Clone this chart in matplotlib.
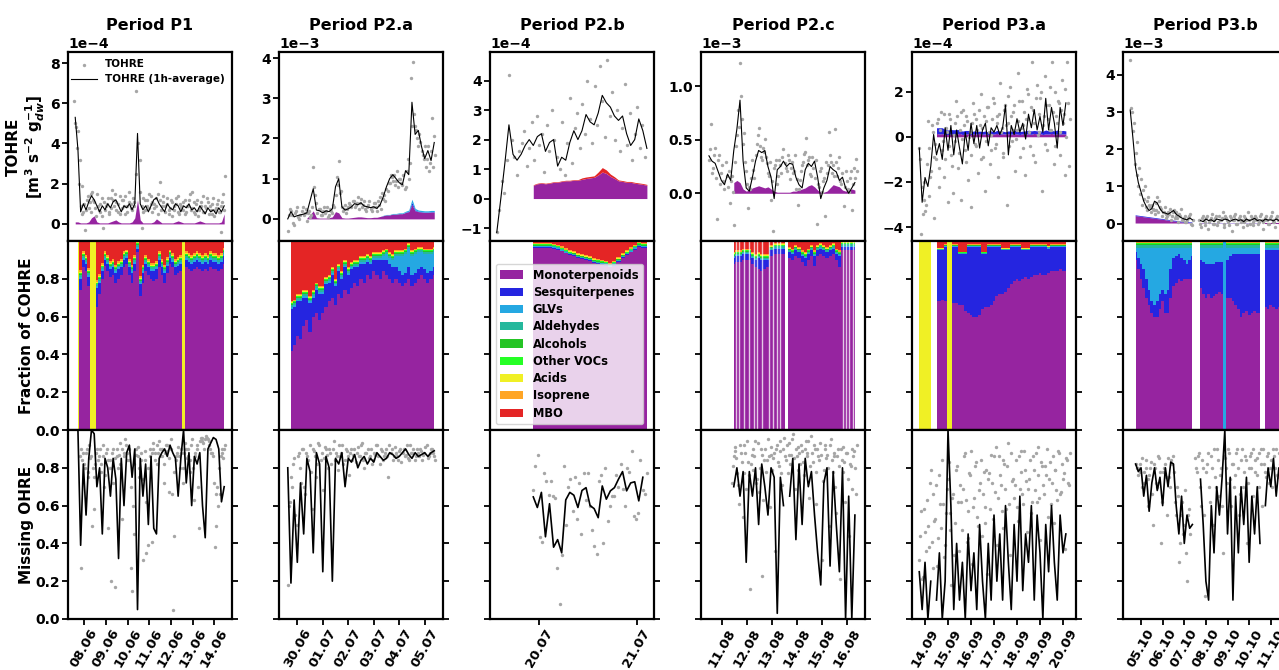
import numpy as np
import pandas as pd
import matplotlib
matplotlib.use("Agg")
import matplotlib.pyplot as plt
import matplotlib.dates as mdates
from matplotlib.patches import Patch

n = np.nan

categories = ["Monoterpenoids", "Sesquiterpenes", "GLVs", "Aldehydes", "Alcohols",
              "Other VOCs", "Acids", "Isoprene", "MBO"]
cat_colors = ["#9624a0", "#2525e0", "#25a8e2", "#25b89c", "#25c425",
              "#25ff25", "#f0f025", "#ffa525", "#e42525"]

# ---------------- Period P1 (3 h grid from 07.06 14:00) ----------------
p1_tohre_avg = [5.3, 3.7, 0.6, 1.0, 0.7, 1.1, 1.4, 1.2, 0.9, 0.6,
                0.9, 0.7, 1.0, 0.8, 1.1, 1.2, 0.9, 0.6, 0.9, 0.8,
                1.0, 0.7, 1.0, 4.5, 1.0, 0.7, 0.9, 0.6, 0.9, 1.2,
                1.3, 1.0, 0.8, 0.6, 1.0, 0.8, 0.7, 1.0, 0.9, 0.6,
                0.9, 0.8, 1.0, 0.7, 0.8, 0.6, 0.9, 0.7, 0.5, 0.8,
                0.6, 0.7, 0.5, 0.8, 0.6, 0.9]
p1_tohre_pts = [6.1, 4.8, 4.6, 3.2, 1.9, 0.6, -0.3, 1.2, 0.8, 1.5,
                1.6, 1.1, 0.4, 0.9, 0.6, 1.3, -0.2, 0.7, 1.0, 0.5,
                1.3, 1.7, 0.9, 1.1, 0.6, 1.4, 0.8, 1.2, 0.5, 0.9,
                1.6, 1.0, 0.7, 1.1, 6.6, 8.1, 3.2, -0.2, 0.6, 1.2,
                0.9, 1.5, 1.0, 1.1, 0.8, 1.3, 0.5, 2.1, 0.9, 1.4,
                0.6, 1.0, 0.7, 1.2, 0.4, 0.9, 1.3, 0.6, 1.0, 0.8,
                1.1, 0.5, 0.9, 1.2, 0.7, 1.6, 0.6, 1.0, 0.4, 0.8,
                1.1, 0.6, 0.9, 1.3, 0.5, 0.7, 1.0, 0.4, 0.8, 1.2,
                0.6, -0.4, 1.5, 2.4]
p1_tohre_pts2 = [5.0, 3.8, 2.0, 0.9, 0.5, 1.0, 0.7, 1.4, 1.1, 0.6,
                 1.2, 0.8, 1.5, 0.7, 1.0, 0.4, 1.1, 0.9, 1.3, 0.6,
                 0.8, 1.2, 1.5, 0.7, 1.0, 0.5, 1.2, 0.9, 1.4, 0.6,
                 1.1, 0.8, 1.3, 0.9, 2.5, 4.0, 1.6, 0.9, 1.3, 0.7,
                 1.2, 0.8, 1.4, 0.6, 1.0, 0.9, 1.5, 1.2, 0.7, 1.1,
                 0.9, 1.3, 0.5, 0.8, 1.1, 0.7, 1.0, 1.4, 0.5, 0.9,
                 0.7, 1.2, 0.6, 0.9, 1.5, 0.8, 1.1, 0.5, 1.2, 0.7,
                 0.9, 1.4, 0.6, 0.8, 1.1, 0.9, 0.5, 1.3, 0.7, 1.0,
                 0.6, 0.9, 1.1, 0.7]
p1_cohre_mono = [0.1, 0.1, 0.05, 0.05, 0.05, 0.1, 0.3, 0.4, 0.1, 0.05,
                 0.05, 0.05, 0.05, 0.1, 0.15, 0.2, 0.1, 0.05, 0.05, 0.05,
                 0.05, 0.1, 0.3, 1.2, 0.2, 0.05, 0.05, 0.05, 0.05, 0.1,
                 0.25, 0.15, 0.05, 0.05, 0.05, 0.05, 0.05, 0.1, 0.15, 0.1,
                 0.05, 0.05, 0.05, 0.05, 0.05, 0.1, 0.15, 0.1, 0.05, 0.05,
                 0.05, 0.05, 0.05, 0.05, 0.1, 0.5]
p1_frac_mono = [n, 0, .74, .86, .84, .76, 0, 0, .65, .72,
                .8, .87, .84, .81, .82, .78, .8, .82, .86, .88,
                .82, .78, .84, .94, .71, .78, .84, .82, .8, .79,
                .8, .86, .82, .78, .83, .88, .86, .82, .83, .84,
                0, .86, .85, .84, .85, .86, .85, .84, .85, .84,
                .86, .85, .85, .84, .85, .88]
p1_frac_sesq = [n, 0, .06, .04, .04, .05, 0, 0, .1, .06,
                .04, .03, .04, .04, .04, .05, .05, .04, .04, .03,
                .04, .05, .04, .02, .06, .05, .04, .04, .04, .05,
                .05, .04, .04, .05, .04, .03, .03, .04, .04, .04,
                0, .04, .04, .04, .04, .04, .04, .04, .04, .04,
                .04, .04, .04, .04, .04, .04]
p1_frac_glv = [n, 0, .01, .01, .01, .01, 0, 0, .01, .01,
               .01, .01, .01, .01, .01, .01, .01, .01, .01, .01,
               .01, .01, .01, .01, .01, .01, .01, .01, .01, .01,
               .01, .01, .01, .01, .01, .01, .01, .01, .01, .01,
               0, .01, .01, .01, .01, .01, .01, .01, .01, .01,
               .01, .01, .01, .01, .01, .01]
p1_frac_ald = [n, 0, .01, .01, .01, .01, 0, 0, .01, .01,
               .01, .01, .01, .01, .01, .01, .01, .01, .01, .01,
               .01, .01, .01, .01, .01, .01, .01, .01, .01, .01,
               .01, .01, .01, .01, .01, .01, .01, .01, .01, .01,
               0, .01, .01, .01, .01, .01, .01, .01, .01, .01,
               .01, .01, .01, .01, .01, .01]
p1_frac_alc = [n, 0, .005, .005, .005, .005, 0, 0, .005, .005,
               .005, .005, .005, .005, .005, .005, .005, .005, .005, .005,
               .005, .005, .005, .005, .005, .005, .005, .005, .005, .005,
               .005, .005, .005, .005, .005, .005, .005, .005, .005, .005,
               0, .005, .005, .005, .005, .005, .005, .005, .005, .005,
               .005, .005, .005, .005, .005, .005]
p1_frac_oth = [n, 0, .005, .005, .005, .005, 0, 0, .005, .005,
               .005, .005, .005, .005, .005, .005, .005, .005, .005, .005,
               .005, .005, .005, .005, .005, .005, .005, .005, .005, .005,
               .005, .005, .005, .005, .005, .005, .005, .005, .005, .005,
               0, .005, .005, .005, .005, .005, .005, .005, .005, .005,
               .005, .005, .005, .005, .005, .005]
p1_frac_acid = [n, 1, .005, .005, .005, .005, 1, 1, .005, .005,
                .005, .005, .005, .005, .005, .005, .005, .005, .005, .005,
                .005, .005, .005, .005, .005, .005, .005, .005, .005, .005,
                .005, .005, .005, .005, .005, .005, .005, .005, .005, .005,
                1, .005, .005, .005, .005, .005, .005, .005, .005, .005,
                .005, .005, .005, .005, .005, .005]
p1_frac_iso = [n, 0, .01, .01, .01, .01, 0, 0, .01, .01,
               .01, .01, .01, .01, .01, .01, .01, .01, .01, .01,
               .01, .01, .01, .01, .01, .01, .01, .01, .01, .01,
               .01, .01, .01, .01, .01, .01, .01, .01, .01, .01,
               0, .01, .01, .01, .01, .01, .01, .01, .01, .01,
               .01, .01, .01, .01, .01, .01]
p1_frac_mbo = [n, 0, .16, .06, .08, .15, 0, 0, .21, .18,
               .12, .06, .08, .11, .1, .13, .11, .1, .06, .05,
               .1, .13, .08, 0, .19, .13, .08, .1, .12, .12,
               .11, .06, .1, .13, .09, .05, .07, .1, .09, .08,
               0, .06, .07, .08, .07, .06, .07, .08, .07, .08,
               .06, .07, .07, .08, .07, .04]
p1_miss_avg = [n, 1.0, 0.39, 0.82, 0.55, 0.85, 1.0, 0.98, 0.7, 0.8,
               0.45, 0.85, 0.8, 0.65, 0.85, 0.74, 0.32, 0.85, 0.6, 0.88,
               0.92, 0.75, 0.9, 0.05, 0.85, 0.65, 0.82, 0.5, 0.86, 0.48,
               0.45, 0.85, 0.88, 0.9, 0.86, 0.92, 0.88, 0.85, 0.65, 0.85,
               1.0, 0.72, 0.88, 0.6, 0.86, 0.82, 0.88, 0.6, 0.43, 0.9,
               0.93, 0.96, 0.95, 0.9, 0.62, 0.7]
p1_miss_pts = [0.86, 0.27, 0.88, 0.8, 0.9, 0.75, 0.85, 0.49, 0.58, 0.82,
               0.9, 0.86, 0.78, 0.92, 0.7, 0.88, 0.48, 0.84, 0.2, 0.9,
               0.17, 0.86, 0.8, 0.93, 0.53, 0.88, 0.95, 0.84, 0.9, 0.27,
               0.15, 0.45, 0.87, 0.91, 0.75, 0.84, 0.31, 0.89, 0.35, 0.39,
               0.9, 0.41, 0.93, 0.88, 0.82, 0.94, 0.9, 0.86, 0.72, 0.92,
               0.89, 0.67, 0.95, 0.05, 0.44, 0.86, 0.91, 0.8, 0.88, 0.72,
               0.93, 0.85, 0.9, 0.78, 0.95, 0.63, 0.88, 0.92, 0.48, 0.96,
               0.94, 0.9, 0.97, 0.95, 0.92, 0.88, 0.86, 0.38, 0.49, 0.6,
               0.66, 0.9, 0.85, 0.92]
p1_miss_pts2 = [.9, .84, .82, .88, .78, .92, .86, .8, .75, .88,
                .84, .9, .82, .86, .76, .9, .84, .8, .88, .72,
                .85, .9, .87, .82, .9, .86, .92, .88, .84, .7,
                .6, .82, .9, .86, .8, .88, .74, .84, .62, .8,
                .86, .88, .9, .84, .92, .88, .86, .9, .82, .88,
                .92, .85, .9, .66, .78, .84, .88, .86, .9, .8,
                .88, .9, .86, .84, .92, .8, .86, .9, .7, .94,
                .96, .93, .95, .96, .94, .9, .88, .72, .66, .7,
                .8, .86, .88, .9]

# ---------------- Period P2.a (3 h grid from 29.06 15:00) ----------------
p2a_tohre_avg = [0.0, .18, .05, .08, .1, .12, .15, .45, .75, .22,
                 .2, .15, .2, .18, .25, .8, 1.0, .3, .22, .25,
                 .3, .38, .35, .4, .32, .3, .28, .3, .26, .35,
                 .55, .8, 1.0, 1.1, 1.0, .9, .85, 1.2, 1.1, 2.9,
                 2.1, 2.2, 1.8, 1.5, 1.7, 1.45, 1.9]
p2a_tohre_pts = [-.3, .25, .1, -.15, .2, .05, .1, .3, .15, -.05,
                 .2, .1, 1.3, .6, .15, .25, .1, .3, .2, .05,
                 .25, .15, .3, 1.05, 1.45, .7, .2, .35, .25, .4,
                 .3, .45, .35, .55, .4, .3, .45, .2, .35, .25,
                 .3, .4, .2, .35, .25, .5, .45, .7, .9, 1.05,
                 1.1, .95, .8, 1.0, .85, .75, 1.2, 1.0, 3.5, 3.9,
                 2.3, 2.0, 2.1, 1.7, 1.5, 1.3, 1.8, 1.4, 2.5, 2.05]
p2a_tohre_pts2 = [.1, .2, -.1, .15, .3, .0, .2, .1, .25, .15,
                  .05, .3, .8, .4, .25, .1, .2, .15, .3, .1,
                  .2, .35, .6, .85, .65, .3, .25, .15, .3, .35,
                  .45, .3, .4, .25, .5, .35, .25, .3, .45, .2,
                  .4, .3, .45, .55, .65, .6, .75, .9, 1.1, .95,
                  .85, 1.2, 1.0, .9, 1.1, .8, 1.5, 1.4, 2.3, 2.6,
                  2.2, 1.8, 1.9, 1.6, 1.8, 1.5, 1.2, 1.7, 1.3, 1.6]
p2a_cohre_mono = [n, n, n, n, n, n, .02, .1, .2, .03,
                  .02, .02, .02, .03, .05, .18, .15, .03, .02, .02,
                  .03, .04, .05, .05, .04, .03, .03, .04, .04, .06,
                  .08, .1, .1, .12, .12, .13, .13, .16, .18, .35,
                  .2, .18, .17, .16, .16, .17, .17]
p2a_cohre_sesq = [n, n, n, n, n, n, 0, 0, 0, 0,
                  0, 0, 0, 0, 0, 0, 0, 0, 0, 0,
                  0, 0, 0, 0, 0, 0, 0, 0, 0, 0,
                  0, 0, 0, 0, 0, 0, 0, .01, .01, .06,
                  .02, .01, .01, .01, .01, .01, .01]
p2a_cohre_glv = [n, n, n, n, n, n, 0, 0, 0, 0,
                 0, 0, 0, 0, 0, 0, 0, 0, 0, 0,
                 0, 0, 0, 0, 0, 0, 0, 0, 0, 0,
                 .01, .01, .01, .015, .015, .02, .02, .02, .03, .08,
                 .04, .03, .03, .03, .03, .03, .03]
p2a_frac_mono = [n, .42, .45, .5, .48, .55, .58, .52, .6, .62,
                 .58, .62, .65, .68, .7, .66, .72, .7, .74, .72,
                 .75, .78, .76, .8, .78, .82, .8, .84, .82, .8,
                 .84, .82, .8, .78, .8, .78, .76, .78, .8, .76,
                 .78, .8, .82, .8, .78, .8, .82]
p2a_frac_sesq = [n, .22, .2, .18, .2, .15, .12, .15, .1, .12,
                 .14, .1, .12, .1, .12, .1, .12, .1, .12, .1,
                 .1, .08, .1, .08, .1, .07, .08, .06, .08, .1,
                 .06, .08, .08, .08, .06, .06, .06, .05, .06, .06,
                 .05, .05, .04, .05, .05, .04, .04]
p2a_frac_glv = [n, .01, .01, .01, .01, .01, .01, .01, .01, .01,
                .01, .01, .01, .01, .01, .01, .01, .01, .01, .01,
                .01, .01, .01, .01, .01, .01, .01, .01, .01, .01,
                .02, .03, .03, .04, .06, .08, .1, .1, .1, .1,
                .1, .09, .08, .08, .1, .09, .08]
p2a_frac_ald = [n, .01, .01, .01, .01, .01, .01, .01, .01, .01,
                .01, .01, .01, .01, .01, .01, .01, .01, .01, .01,
                .01, .01, .01, .01, .01, .01, .01, .01, .01, .01,
                .01, .01, .01, .01, .01, .01, .01, .01, .01, .01,
                .01, .01, .01, .01, .01, .01, .01]
p2a_frac_alc = [n, .005, .005, .005, .005, .005, .005, .005, .005, .005,
                .005, .005, .005, .005, .005, .005, .005, .005, .005, .005,
                .005, .005, .005, .005, .005, .005, .005, .005, .005, .005,
                .005, .005, .005, .005, .005, .005, .005, .005, .005, .005,
                .005, .005, .005, .005, .005, .005, .005]
p2a_frac_oth = [n, .005, .005, .005, .005, .005, .005, .005, .005, .005,
                .005, .005, .005, .005, .005, .005, .005, .005, .005, .005,
                .005, .005, .005, .005, .005, .005, .005, .005, .005, .005,
                .005, .005, .005, .005, .005, .005, .005, .005, .005, .005,
                .005, .005, .005, .005, .005, .005, .005]
p2a_frac_acid = [n, .005, .005, .005, .005, .005, .005, .005, .005, .005,
                 .005, .005, .005, .005, .005, .005, .005, .005, .005, .005,
                 .005, .005, .005, .005, .005, .005, .005, .005, .005, .005,
                 .005, .005, .005, .005, .005, .005, .005, .005, .005, .005,
                 .005, .005, .005, .005, .005, .005, .005]
p2a_frac_iso = [n, .005, .005, .005, .005, .005, .005, .005, .005, .005,
                .005, .005, .005, .005, .005, .005, .005, .005, .005, .005,
                .005, .005, .005, .005, .005, .005, .005, .005, .005, .005,
                .005, .005, .005, .005, .005, .005, .005, .005, .005, .005,
                .005, .005, .005, .005, .005, .005, .005]
p2a_frac_mbo = [n, .32, .31, .28, .28, .26, .26, .29, .26, .22,
                .24, .24, .19, .18, .14, .2, .12, .16, .1, .14,
                .11, .1, .1, .08, .08, .07, .08, .06, .06, .06,
                .05, .04, .06, .07, .05, .05, .05, .04, .01, .05,
                .04, .03, .03, .04, .04, .04, .03]
p2a_miss_avg = [.8, .19, .63, .3, .72, .45, .85, .78, .35, .88,
                .82, .25, .86, .8, .2, .85, .82, .88, .7, .85,
                .83, .87, .8, .84, .86, .82, .85, .83, .88, .86,
                .84, .85, .88, .87, .85, .86, .88, .9, .87, .85,
                .88, .86, .87, .88, .86, .88, .89]
p2a_miss_pts = [.18, .62, .7, .85, .5, .88, .72, .9, .66, .86,
                .92, .58, .89, .75, .93, .84, .68, .91, .87, .9,
                .82, .94, .88, .79, .86, .92, .84, .89, .76, .9,
                .87, .83, .91, .86, .93, .8, .88, .85, .9, .84,
                .87, .92, .82, .89, .86, .9, .75, .88, .84, .91,
                .86, .89, .83, .9, .87, .85, .92, .88, .84, .9,
                .86, .89, .87, .91, .85, .88, .9, .86]
p2a_miss_pts2 = [.6, .75, .82, .55, .86, .8, .9, .7, .88, .84,
                 .78, .9, .86, .82, .92, .88, .85, .9, .8, .88,
                 .9, .84, .86, .92, .88, .82, .9, .86, .88, .84,
                 .9, .88, .86, .92, .84, .88, .9, .86, .82, .88,
                 .92, .86, .9, .84, .88, .86, .92, .9, .86, .88,
                 .84, .9, .88, .86, .92, .84, .88, .9, .86, .88,
                 .9, .84, .88, .92, .86, .9, .88, .84]

# ---------------- Period P2.b (1 h grid from 19.07 13:30) ----------------
p2b_tohre_avg = [-1.15, 0.0, 1.2, 2.5, 1.5, 1.3, 1.5, 1.8, 2.0, 1.8,
                 2.1, 2.2, 1.6, 1.9, 2.0, 1.1, 1.4, 1.3, 1.9, 2.3,
                 2.0, 2.3, 2.85, 2.6, 2.5, 2.9, 3.5, 3.25, 3.1, 2.8,
                 2.65, 2.8, 2.2, 1.8, 2.0, 2.7, 2.3, 1.7]
p2b_tohre_pts = [-1.15, -.4, .6, .2, 1.3, 4.2, 2.0, 1.4, 0.8, 1.6,
                 1.9, 2.3, 1.1, 1.7, 2.6, 1.3, 2.8, 1.8, 2.2, 0.9,
                 2.5, 1.6, 3.0, 2.0, 1.4, 1.0, 2.6, 0.8, 1.9, 3.4,
                 1.2, 2.4, 2.9, 1.7, 3.2, 2.2, 4.0, 2.7, 1.9, 3.8,
                 2.5, 4.5, 3.3, 2.1, 4.7, 2.8, 3.6, 2.0, 3.0, 1.6,
                 2.4, 3.9, 1.8, 2.9, 1.3, 2.2, 3.1, 1.7, 2.5, 1.4]
p2b_cohre_mono = [n, n, n, n, n, n, n, n, n, .45,
                  .5, .52, .5, .52, .55, .55, .58, .6, .6, .62,
                  .62, .65, .68, .7, .72, .8, .9, .85, .75, .68,
                  .6, .58, .55, .55, .52, .5, .48, .45]
p2b_cohre_mbo = [n, n, n, n, n, n, n, n, n, .02,
                 .02, .02, .02, .02, .02, .02, .02, .02, .02, .02,
                 .02, .05, .05, .05, .05, .1, .15, .12, .08, .06,
                 .03, .03, .03, .03, .03, .03, .03, .03]
p2b_frac_mono = [n, n, n, n, n, n, n, n, n, .965,
                 .965, .965, .965, .965, .96, .955, .945, .935, .925, .92,
                 .91, .905, .9, .895, .885, .88, .875, .87, .86, .87,
                 .89, .91, .925, .94, .955, .97, .965, .965]
p2b_frac_sesq = [n, n, n, n, n, n, n, n, n, .004,
                 .004, .004, .004, .004, .004, .004, .004, .004, .004, .004,
                 .004, .004, .004, .004, .004, .004, .004, .004, .004, .004,
                 .004, .004, .004, .004, .004, .004, .004, .004]
p2b_frac_glv = [n, n, n, n, n, n, n, n, n, .002,
                .002, .002, .002, .002, .002, .002, .002, .002, .002, .002,
                .002, .002, .002, .002, .002, .002, .002, .002, .002, .002,
                .002, .002, .002, .002, .002, .002, .002, .002]
p2b_frac_ald = [n, n, n, n, n, n, n, n, n, .005,
                .005, .005, .005, .005, .005, .005, .005, .005, .005, .005,
                .005, .005, .005, .005, .005, .005, .005, .005, .005, .005,
                .005, .005, .005, .005, .005, .005, .005, .005]
p2b_frac_alc = [n, n, n, n, n, n, n, n, n, .003,
                .003, .003, .003, .003, .003, .003, .003, .003, .003, .003,
                .003, .003, .003, .003, .003, .003, .003, .003, .003, .003,
                .003, .003, .003, .003, .003, .003, .003, .003]
p2b_frac_oth = [n, n, n, n, n, n, n, n, n, .003,
                .003, .003, .003, .003, .003, .003, .003, .003, .003, .003,
                .003, .003, .003, .003, .003, .003, .003, .003, .003, .003,
                .003, .003, .003, .003, .003, .003, .003, .003]
p2b_frac_acid = [n, n, n, n, n, n, n, n, n, .003,
                 .003, .003, .003, .003, .003, .003, .003, .003, .003, .003,
                 .003, .003, .003, .003, .003, .003, .003, .003, .003, .003,
                 .003, .003, .003, .003, .003, .003, .003, .003]
p2b_frac_iso = [n, n, n, n, n, n, n, n, n, .006,
                .006, .006, .006, .006, .006, .006, .006, .006, .006, .006,
                .006, .006, .006, .006, .006, .006, .006, .006, .006, .006,
                .006, .006, .006, .006, .006, .006, .006, .006]
p2b_frac_mbo = [n, n, n, n, n, n, n, n, n, .01,
                .01, .01, .01, .01, .015, .02, .03, .04, .05, .055,
                .065, .07, .075, .08, .09, .095, .1, .105, .115, .105,
                .085, .065, .05, .035, .02, .005, .01, .01]
p2b_miss_avg = [n, n, n, n, n, n, n, n, n, .646,
                .59, .67, .435, .61, .38, .42, .35, .63, .67, .655,
                .59, .68, .695, .6, .584, .536, .704, .634, .678, .695,
                .74, .78, .678, .72, .726, .625, .75, n]
p2b_miss_pts = [.68, .81, .87, .435, .41, .77, .73, .655, .73, .65,
                .64, .27, .08, .34, .81, .5, .7, .74, .57, .75,
                .53, .72, .45, .77, .63, .77, .6, .47, .386, .345,
                .73, .76, .4, .8, .52, .6, .65, .65, .76, .7,
                .82, .69, .6, .8, .78, .89, .545, .53, .56, .84,
                .68, .66, .77]

# ---------------- Period P2.c (3 h grid from 10.08 11:00) ----------------
p2c_tohre_avg = [.35, .3, .28, .2, .12, .08, .18, .12, .4, .6,
                 .87, .3, .05, .02, .15, .3, .4, .38, .4, .25,
                 .15, -.05, .22, .25, .3, .25, .28, .27, .15, .08,
                 .05, .22, .28, .25, .3, .15, -.05, .05, .12, .25,
                 .22, .2, .12, .15, .05, 0.0, .05, .1]
p2c_tohre_pts = [.31, .65, .24, .42, -.24, .36, .19, .11, .29, .06,
                 -.09, .16, -.3, .44, .78, 1.22, .69, .56, .21, -.14,
                 .04, .31, .14, .46, .61, .34, .42, .51, .28, .16,
                 -.06, -.35, .26, .09, .31, .19, .41, .24, .36, .13,
                 .29, .21, .04, -.11, .12, .26, .37, .52, .31, .18,
                 .34, .14, -.29, .06, .24, .11, -.21, .19, .57, .29,
                 .26, .6, .16, .34, .09, -.12, .21, .04, .14, -.16, .24, .32]
p2c_tohre_pts2 = [.41, .19, .36, .14, .31, .09, .26, .04, .16, .21,
                  .11, .01, .29, .54, .62, .91, .46, .29, .09, .06,
                  .14, .22, .36, .54, .44, .31, .39, .34, .19, .29,
                  .11, .24, .31, .16, .26, .34, .28, .21, .31, .24,
                  .19, .36, .13, .04, .21, .29, .39, .26, .34, .16,
                  .24, .31, .09, .21, .01, .14, .29, .26, .36, .19,
                  .16, .29, .24, .11, .19, .06, .11, .01, .21, .09, .14, .21]
p2c_cohre_mono = [n, n, n, n, n, n, n, n, .1, .12,
                  .1, .04, .02, .03, .05, .06, .07, .06, .05, .06,
                  .04, .02, .01, .01, .01, .01, .01, .02, .02, .03,
                  .04, .05, .07, .08, .06, .03, .01, .01, .02, .05,
                  .08, .07, .06, .03, .02, .03, .04, .03]
p2c_frac_mono = [n, n, n, n, n, n, n, n, .88, .89,
                 .89, .9, .9, .9, .88, .86, .85, .84, .85, .86,
                 .92, .93, .93, .93, .93, 0, .91, .9, .92, .91,
                 .89, .87, .9, .92, .87, .92, .93, .92, .91, .92,
                 .93, .9, .86, .95, .95, .95, .95, .95]
p2c_frac_sesq = [n, n, n, n, n, n, n, n, .03, .03,
                 .03, .03, .03, .03, .03, .04, .06, .06, .05, .04,
                 .03, .03, .03, .03, .03, 0, .03, .03, .03, .03,
                 .03, .04, .03, .03, .05, .03, .03, .03, .03, .03,
                 .03, .03, .06, .02, .02, .02, .02, .02]
p2c_frac_glv = [n, n, n, n, n, n, n, n, .004, .004,
                .004, .004, .004, .004, .004, .004, .004, .004, .004, .004,
                .004, .004, .004, .004, .004, 0, .004, .004, .004, .004,
                .004, .004, .004, .004, .004, .004, .004, .004, .004, .004,
                .004, .004, .004, .004, .004, .004, .004, .004]
p2c_frac_ald = [n, n, n, n, n, n, n, n, .008, .008,
                .008, .008, .008, .008, .008, .008, .008, .008, .008, .008,
                .008, .008, .008, .008, .008, 0, .008, .008, .008, .008,
                .008, .008, .008, .008, .008, .008, .008, .008, .008, .008,
                .008, .008, .008, .008, .008, .008, .008, .008]
p2c_frac_alc = [n, n, n, n, n, n, n, n, .004, .004,
                .004, .004, .004, .004, .004, .004, .004, .004, .004, .004,
                .004, .004, .004, .004, .004, 0, .004, .004, .004, .004,
                .004, .004, .004, .004, .004, .004, .004, .004, .004, .004,
                .004, .004, .004, .004, .004, .004, .004, .004]
p2c_frac_oth = [n, n, n, n, n, n, n, n, .004, .004,
                .004, .004, .004, .004, .004, .004, .004, .004, .004, .004,
                .004, .004, .004, .004, .004, 0, .004, .004, .004, .004,
                .004, .004, .004, .004, .004, .004, .004, .004, .004, .004,
                .004, .004, .004, .004, .004, .004, .004, .004]
p2c_frac_acid = [n, n, n, n, n, n, n, n, .004, .004,
                 .004, .004, .004, .004, .004, .004, .004, .004, .004, .004,
                 .004, .004, .004, .004, .004, 0, .004, .004, .004, .004,
                 .004, .004, .004, .004, .004, .004, .004, .004, .004, .004,
                 .004, .004, .004, .004, .004, .004, .004, .004]
p2c_frac_iso = [n, n, n, n, n, n, n, n, .006, .006,
                .006, .006, .006, .006, .006, .006, .006, .006, .006, .006,
                .006, .006, .006, .006, .006, 0, .006, .006, .006, .006,
                .006, .006, .006, .006, .006, .006, .006, .006, .006, .006,
                .006, .006, .006, .006, .006, .006, .006, .006]
p2c_frac_mbo = [n, n, n, n, n, n, n, n, .06, .05,
                .05, .04, .04, .04, .06, .07, .06, .07, .07, .07,
                .02, .01, .01, .01, .01, 0, .03, .04, .02, .03,
                .05, .06, .04, .02, .05, .02, .01, .02, .03, .02,
                .01, .04, .05, .005, .005, .005, .005, .005]
# short sampling gaps inside the COHRE record
p2c_gap_times = ["2021-08-11 12:45", "2021-08-11 15:55", "2021-08-11 20:40",
                 "2021-08-12 01:25", "2021-08-12 06:15", "2021-08-12 09:25",
                 "2021-08-12 14:15", "2021-08-12 20:35", "2021-08-13 01:20",
                 "2021-08-13 04:35", "2021-08-13 07:45", "2021-08-15 20:15",
                 "2021-08-15 23:30", "2021-08-16 02:40", "2021-08-16 05:50"]
p2c_miss_avg = [n, n, n, n, n, n, n, n, .7, .8,
                .65, .78, .3, .78, .65, .8, .5, .82, .7, .55,
                .8, .75, .03, .75, .6, n, .65, .85, .42, .82,
                .5, .85, .7, .78, .55, .35, .18, .72, .8, .28,
                .78, .5, .25, .8, 0.0, .65, 0.0, .55]
p2c_miss_pts = [.72, .86, .91, .77, .61, .88, .54, .92, .69, .83,
                .16, .87, .79, .94, .74, .67, .9, .23, .84, .78,
                .95, .59, .87, .85, .36, .92, .81, .89, .71, .96,
                .84, .77, .93, .87, .98, .69, .86, .91, .82, .89,
                .76, .94, .88, .64, .97, .83, .9, .61, .86, .93,
                .31, .79, .92, .87, .49, .95, .78, .86, .56, .9,
                .21, .84, .91, .62, .88, .44, .81, .69, .89, .66]
p2c_miss_pts2 = [.81, .89, .85, .71, .92, .83, .77, .88, .94, .76,
                 .82, .9, .86, .72, .93, .8, .87, .63, .9, .84,
                 .86, .91, .79, .88, .9, .83, .94, .77, .9, .86,
                 .92, .87, .82, .95, .85, .9, .79, .88, .92, .83,
                 .9, .86, .94, .81, .88, .92, .78, .9, .84, .87,
                 .73, .9, .85, .8, .92, .84, .88, .7, .86, .81,
                 .9, .78, .83, .88, .74, .82, .9, .86, .8, .92]

# ---------------- Period P3.a (3 h grid from 13.09 18:00) ----------------
p3a_tohre_avg = [-.5, -2.9, -1.8, -2.2, -1.3, .1, -.8, -.3, -1.0, .4,
                 -.6, .5, -.8, .3, -.5, -1.2, .2, -.6, .6, -.3,
                 .5, -.5, .3, .6, -.4, .4, .2, .5, .1, .4,
                 1.4, -.8, .5, .1, .8, .2, .6, -.1, 1.0, .4,
                 1.2, .3, .9, .2, 1.7, .3, 1.3, .6, -.5, 1.3,
                 .5, 1.5]
p3a_tohre_pts = [-0.5, -4.3, -3.4, -2.0, -3.0, .7, -2.6, -1.5, .2, -3.6,
                 -1.0, .8, -2.2, 1.1, -.2, -1.8, .4, -2.9, 1.0, -.8,
                 -2.5, .6, 1.6, -1.4, .3, -2.8, 1.2, -.6, .9, -1.9,
                 .2, -3.1, 1.5, -.3, .8, -1.6, .5, 1.9, -.9, -2.4,
                 .7, 1.3, -1.2, .1, 1.7, -.5, .9, -1.8, 2.4, .4,
                 -.7, 1.4, -3.0, .6, 2.2, -.2, 1.1, -1.5, .3, 2.8,
                 -.9, 1.6, .5, -1.7, 2.1, .8, -.4, 3.3, 1.2, -1.1,
                 2.3, .2, 1.7, -2.4, .9, 2.7, -.6, 1.4, .3, 3.3,
                 -1.2, 2.0, .6, 1.5, -.8, 2.5, 1.0, -1.7, 3.3, -1.3]
p3a_tohre_pts2 = [-1.0, -2.2, -2.8, -3.3, -1.2, -.5, -1.8, .5, -.9, -.3,
                  .6, -1.4, .3, -.6, 1.0, -1.0, .2, -.4, .8, -1.3,
                  .1, -.2, .9, -.7, 1.1, -.1, .5, -1.1, .7, .0,
                  -.8, .6, 1.0, -.4, .3, 1.2, -1.0, .4, .9, -.2,
                  1.3, .2, -.6, .8, 1.5, -.3, .6, 1.0, .2, -.9,
                  1.2, .5, 1.8, -.4, .9, .3, 1.4, -.1, .7, 1.6,
                  .4, -.5, 1.1, .8, 1.9, .2, 1.3, -.8, .6, 1.7,
                  .1, 1.0, 2.0, .5, -.3, 1.4, .8, 2.2, .3, 1.1,
                  -.4, .9, 1.6, .2, 1.2, .6, 2.1, .0, 1.5, .8]
p3a_cohre_mono = [n, n, n, n, n, n, .15, .12, .14, .1,
                  .1, .12, .13, .12, .15, .1, .12, .14, .1, .13,
                  .12, .15, .11, .13, .1, .14, .12, .15, .1, .13,
                  .12, .14, .11, .15, .12, .1, .14, .12, .13, .11,
                  .15, .12, .14, .1, .13, .12, .15, .11, .14, .12,
                  .13, .12]
p3a_cohre_sesq = [n, n, n, n, n, n, .25, .28, .26, .22,
                  .2, .2, .18, .2, .17, .15, .16, .14, .12, .13,
                  .12, .1, .12, .13, .11, .12, .1, .13, .15, .12,
                  .1, .12, .14, .15, .12, .13, .11, .14, .16, .15,
                  .13, .14, .12, .15, .17, .14, .13, .15, .16, .14,
                  .15, .14]
p3a_frac_mono = [0, 0, 0, 0, 0, n, .68, .68, .69, .68,
                 0, 0, .67, .67, .66, .66, .63, .62, .61, .6,
                 .6, .61, .64, .65, .65, .66, .68, .71, .72, .72,
                 .73, .75, .77, .79, .8, .79, .8, .81, .8, .81,
                 .82, .82, .83, .82, .82, .83, .84, .84, .84, .85,
                 .84, .84]
p3a_frac_sesq = [0, 0, 0, 0, 0, n, .27, .27, .26, .29,
                 0, 0, .3, .3, .27, .27, .3, .35, .36, .37,
                 .37, .36, .29, .28, .32, .31, .29, .26, .25, .23,
                 .22, .2, .2, .18, .17, .18, .15, .14, .15, .16,
                 .15, .15, .14, .15, .15, .13, .13, .13, .13, .12,
                 .13, .13]
p3a_frac_glv = [0, 0, 0, 0, 0, n, .002, .002, .002, .002,
                0, 0, .002, .002, .002, .002, .002, .002, .002, .002,
                .002, .002, .002, .002, .002, .002, .002, .002, .002, .002,
                .002, .002, .002, .002, .002, .002, .002, .002, .002, .002,
                .002, .002, .002, .002, .002, .002, .002, .002, .002, .002,
                .002, .002]
p3a_frac_ald = [0, 0, 0, 0, 0, n, .004, .004, .004, .004,
                0, 0, .004, .004, .004, .004, .004, .004, .004, .004,
                .004, .004, .004, .004, .004, .004, .004, .004, .004, .004,
                .004, .004, .004, .004, .004, .004, .004, .004, .004, .004,
                .004, .004, .004, .004, .004, .004, .004, .004, .004, .004,
                .004, .004]
p3a_frac_alc = [0, 0, 0, 0, 0, n, .002, .002, .002, .002,
                0, 0, .002, .002, .002, .002, .002, .002, .002, .002,
                .002, .002, .002, .002, .002, .002, .002, .002, .002, .002,
                .002, .002, .002, .002, .002, .002, .002, .002, .002, .002,
                .002, .002, .002, .002, .002, .002, .002, .002, .002, .002,
                .002, .002]
p3a_frac_oth = [0, 0, 0, 0, 0, n, .002, .002, .002, .002,
                0, 0, .002, .002, .002, .002, .002, .002, .002, .002,
                .002, .002, .002, .002, .002, .002, .002, .002, .002, .002,
                .002, .002, .002, .002, .002, .002, .002, .002, .002, .002,
                .002, .002, .002, .002, .002, .002, .002, .002, .002, .002,
                .002, .002]
p3a_frac_acid = [1, 1, 1, 1, 1, n, .001, .001, .001, .001,
                 1, 1, .001, .001, .001, .001, .001, .001, .001, .001,
                 .001, .001, .001, .001, .001, .001, .001, .001, .001, .001,
                 .001, .001, .001, .001, .001, .001, .001, .001, .001, .001,
                 .001, .001, .001, .001, .001, .001, .001, .001, .001, .001,
                 .001, .001]
p3a_frac_iso = [0, 0, 0, 0, 0, n, .001, .001, .001, .001,
                0, 0, .001, .001, .001, .001, .001, .001, .001, .001,
                .001, .001, .001, .001, .001, .001, .001, .001, .001, .001,
                .001, .001, .001, .001, .001, .001, .001, .001, .001, .001,
                .001, .001, .001, .001, .001, .001, .001, .001, .001, .001,
                .001, .001]
p3a_frac_mbo = [0, 0, 0, 0, 0, n, .045, .045, .045, .02,
                0, 0, .02, .02, .065, .065, .065, .02, .02, .02,
                .02, .02, .065, .065, .02, .02, .02, .02, .02, .045,
                .045, .045, .02, .02, .02, .02, .045, .045, .045, .02,
                .02, .02, .02, .02, .02, .03, .02, .02, .02, .02,
                .02, .02]
p3a_miss_avg = [.25, .05, .3, .0, .2, n, .1, .35, .0, .2,
                1.0, .6, .05, .4, .1, .3, .0, .45, .15, .35,
                .05, .5, .2, .0, .4, .1, .55, .2, .45, .1,
                .6, .3, .05, .5, .2, .65, .15, .45, .3, .6,
                .1, .55, .35, .0, .5, .25, .6, .3, .1, .55,
                .35, .45]
p3a_miss_pts = [.31, .57, .22, .46, .63, .38, .79, .27, .52, .71,
                .43, .61, .84, .33, .56, .74, .47, .18, .66, .51,
                .81, .36, .62, .69, .88, .41, .57, .76, .29, .64,
                .83, .49, .72, .44, .78, .59, .24, .77, .87, .53,
                .67, .39, .86, .71, .48, .82, .58, .93, .34, .73,
                .64, .84, .52, .69, .89, .61, .79, .46, .74, .56,
                .86, .68, .62, .91, .42, .81, .66, .76, .54, .83,
                .72, .51, .79, .63, .88, .67, .74, .37, .84, .71]
p3a_miss_pts2 = [.44, .21, .58, .36, .49, .72, .41, .66, .53, .28,
                 .76, .48, .61, .39, .69, .83, .56, .64, .34, .79,
                 .62, .71, .47, .86, .63, .43, .77, .89, .59, .81,
                 .54, .68, .84, .66, .51, .79, .74, .58, .72, .86,
                 .91, .64, .76, .57, .84, .69, .81, .61, .88, .74,
                 .71, .59, .86, .78, .66, .89, .73, .69, .84, .62,
                 .79, .88, .76, .64, .83, .71, .81, .9, .74, .61,
                 .86, .79, .68, .89, .66, .82, .77, .85, .72, .88]

# ---------------- Period P3.b (3 h grid from 04.10 12:00) ----------------
p3b_tohre_avg = [3.05, 2.3, 1.5, 1.1, .85, .6, .45, .35, .4, .6,
                 .55, .4, .3, .28, .25, .3, .35, .25, .2, .15,
                 .12, .1, .15, .1, n, n, .08, .05, .12, .08,
                 .1, .05, .12, .1, .08, .12, .1, .06, .1, .12,
                 .08, .1, .05, .12, .08, .1, .14, .08, .1, .06,
                 .12, .09, .1, .07, .12, .08, .1, .09]
p3b_tohre_pts = [4.4, 3.0, 2.7, 1.9, 2.2, 1.5, 1.2, .9, 1.0, .6,
                 .7, .45, .5, .35, .55, .7, .6, .4, .3, .45,
                 .25, .3, .4, .2, .35, .3, .15, .25, .4, .1,
                 .2, .05, .15, .25, -.05, n, n, n, .1, -.1,
                 .2, .05, .15, -.15, .1, .25, 0, .15, -.05, .2,
                 .1, .3, -.1, .15, .05, .2, -.2, .1, .25, 0,
                 .15, .05, -.1, .2, .1, .3, 0, .15, -.05, .2,
                 .1, .05, .25, -.15, .1, .2, 0, .15, .3, .05,
                 -.1, .2, .1, .25, 0, .15]
p3b_tohre_pts2 = [3.1, 2.5, 1.6, 1.3, 1.0, .8, .5, .65, .45, .35,
                  .5, .3, .4, .25, .35, .3, .45, .2, .3, .15,
                  .2, .25, .1, .3, .15, .2, .05, .2, .1, .15,
                  .05, .1, .2, .0, .1, n, n, n, .0, .15,
                  .1, -.05, .2, .05, .15, .0, .1, .2, .05, .1,
                  .15, .0, .2, .1, -.05, .15, .1, .2, .0, .1,
                  .2, .1, .05, .15, -.05, .1, .2, .05, .1, .15,
                  .0, .2, .1, .05, .15, .1, .0, .2, .1, .05,
                  .15, .1, .0, .1, .2, .05]
p3b_cohre_mono = [n, n, .2, .19, .18, .17, .16, .15, .14, .13,
                  .12, .11, .1, .09, .08, .07, .06, .05, .04, .03,
                  .02, .02, .01, .01, n, n, .01, .01, .005, .005,
                  .005, .005, .005, .005, .005, .005, .005, .005, .005, .005,
                  .005, .005, .005, .005, .005, .005, .005, .005, .005, n,
                  .005, .005, .005, .005, .005, .005, .005, .005]
p3b_cohre_sesq = [n, n, .02, .02, .02, .02, .02, .02, .02, .02,
                  .02, .02, .02, .02, .02, .02, .02, .02, .02, .02,
                  .02, .02, .02, .02, n, n, .005, .005, .005, .005,
                  .005, .005, .005, .005, .005, .005, .005, .005, .005, .005,
                  .005, .005, .005, .005, .005, .005, .005, .005, .005, n,
                  .005, .005, .005, .005, .005, .005, .005, .005]
p3b_frac_mono = [n, n, .9, .85, .8, .75, .7, .66, .62, .6,
                 .6, .64, .68, .62, .62, .7, .76, .78, .8, .79,
                 .8, .8, .8, .8, n, n, .75, .72, .7, .72,
                 .7, .71, .72, .73, .72, 0, .7, .7, .68, .66,
                 .64, .6, .62, .63, .61, .62, .63, .62, .62, n,
                 .65, .64, .66, .65, .64, .65, .66, .65]
p3b_frac_sesq = [n, n, .04, .06, .08, .1, .1, .08, .06, .06,
                 .08, .08, .06, .1, .12, .15, .15, .14, .13, .12,
                 .1, .08, .1, .12, n, n, .15, .17, .18, .16,
                 .18, .17, .17, .16, .17, 0, .2, .22, .25, .27,
                 .29, .33, .31, .3, .32, .31, .3, .31, .31, n,
                 .3, .31, .29, .3, .31, .3, .29, .3]
p3b_frac_glv = [n, n, .025, .055, .085, .115, .165, .225, .285, .305,
                .285, .245, .225, .245, .225, .115, .055, .045, .035, .055,
                .065, .085, .065, .045, n, n, .065, .075, .085, .085,
                .085, .085, .075, .075, .075, 1, .065, .045, .035, .035,
                .035, .035, .035, .035, .035, .035, .035, .035, .035, n,
                .015, .015, .015, .015, .015, .015, .015, .015]
p3b_frac_ald = [n, n, .015, .015, .015, .015, .015, .015, .015, .015,
                .015, .015, .015, .015, .015, .015, .015, .015, .015, .015,
                .015, .015, .015, .015, n, n, .015, .015, .015, .015,
                .015, .015, .015, .015, .015, 0, .015, .015, .015, .015,
                .015, .015, .015, .015, .015, .015, .015, .015, .015, n,
                .015, .015, .015, .015, .015, .015, .015, .015]
p3b_frac_alc = [n, n, .005, .005, .005, .005, .005, .005, .005, .005,
                .005, .005, .005, .005, .005, .005, .005, .005, .005, .005,
                .005, .005, .005, .005, n, n, .005, .005, .005, .005,
                .005, .005, .005, .005, .005, 0, .005, .005, .005, .005,
                .005, .005, .005, .005, .005, .005, .005, .005, .005, n,
                .005, .005, .005, .005, .005, .005, .005, .005]
p3b_frac_oth = [n, n, .005, .005, .005, .005, .005, .005, .005, .005,
                .005, .005, .005, .005, .005, .005, .005, .005, .005, .005,
                .005, .005, .005, .005, n, n, .005, .005, .005, .005,
                .005, .005, .005, .005, .005, 0, .005, .005, .005, .005,
                .005, .005, .005, .005, .005, .005, .005, .005, .005, n,
                .005, .005, .005, .005, .005, .005, .005, .005]
p3b_frac_acid = [n, n, .002, .002, .002, .002, .002, .002, .002, .002,
                 .002, .002, .002, .002, .002, .002, .002, .002, .002, .002,
                 .002, .002, .002, .002, n, n, .002, .002, .002, .002,
                 .002, .002, .002, .002, .002, 0, .002, .002, .002, .002,
                 .002, .002, .002, .002, .002, .002, .002, .002, .002, n,
                 .002, .002, .002, .002, .002, .002, .002, .002]
p3b_frac_iso = [n, n, .003, .003, .003, .003, .003, .003, .003, .003,
                .003, .003, .003, .003, .003, .003, .003, .003, .003, .003,
                .003, .003, .003, .003, n, n, .003, .003, .003, .003,
                .003, .003, .003, .003, .003, 0, .003, .003, .003, .003,
                .003, .003, .003, .003, .003, .003, .003, .003, .003, n,
                .003, .003, .003, .003, .003, .003, .003, .003]
p3b_frac_mbo = [n, n, .005, .005, .005, .005, .005, .005, .005, .005,
                .005, .005, .005, .005, .005, .005, .005, .005, .005, .005,
                .005, .005, .005, .005, n, n, .005, .005, .005, .005,
                .005, .005, .005, .005, .005, 0, .005, .005, .005, .005,
                .005, .005, .005, .005, .005, .005, .005, .005, .005, n,
                .005, .005, .005, .005, .005, .005, .005, .005]
p3b_miss_avg = [n, n, .82, .78, .8, .65, .76, .57, .72, .8,
                .68, .75, .6, .8, .7, .83, .82, .6, .45, .65,
                .4, .55, .48, .5, n, n, .74, .5, .2, .1,
                .6, .35, .7, .55, .75, 1.0, .45, .75, .1, .65,
                .35, .7, .5, .75, .3, .65, .45, .7, .4, n,
                .6, .8, .7, .85, .65, .8, .75, .7]
p3b_miss_pts = [.82, .8, .78, .85, .72, .8, .6, .76, .83, .5,
                .8, .7, .85, .4, .78, .82, .55, .75, .84, .86,
                .62, .7, .3, .55, .45, .68, .2, .58, n, n,
                .85, .78, .88, .6, .8, .12, .82, .7, .86, .5,
                .75, .9, .65, .8, .35, .85, .72, .88, .6, .82,
                .76, .9, .55, .84, .7, .86, .4, .8, .88, .65,
                .78, .85, .7, .9, .6, .82, .75, .88, .8, .7,
                .86, .9, .75, .82, .68, .88]
p3b_miss_pts2 = [.8, .76, .82, .7, .78, .84, .74, .8, .66, .82,
                 .72, .86, .78, .62, .8, .75, .85, .7, .82, .78,
                 .55, .65, .4, .62, .5, .35, .55, .45, n, n,
                 .8, .86, .7, .84, .55, .78, .88, .62, .8, .9,
                 .7, .84, .76, .6, .86, .8, .9, .74, .82, .7,
                 .88, .8, .66, .9, .78, .84, .72, .86, .8, .9,
                 .84, .76, .88, .82, .9, .78, .86, .72, .84, .9,
                 .8, .76, .88, .84, .9, .82]

# ---------------- panel set-up ----------------
panels = [
    dict(name="P1", t0="2021-06-07 14:00", dt=3, xlim=("2021-06-07 06:00", "2021-06-14 19:40"),
         scale=1e-4, ylim=(-0.85, 8.55), yticks=[0, 2, 4, 6, 8],
         avg=p1_tohre_avg,
         pts=[(p1_tohre_pts, "2021-06-07 13:00", "2021-06-14 12:00"),
              (p1_tohre_pts2, "2021-06-07 14:00", "2021-06-14 11:00")],
         cohre=[(p1_cohre_mono, 0)],
         frac=[p1_frac_mono, p1_frac_sesq, p1_frac_glv, p1_frac_ald, p1_frac_alc,
               p1_frac_oth, p1_frac_acid, p1_frac_iso, p1_frac_mbo], gaps=[],
         miss=p1_miss_avg,
         miss_pts=[(p1_miss_pts, "2021-06-07 19:00", "2021-06-14 12:00"),
                   (p1_miss_pts2, "2021-06-07 20:00", "2021-06-14 11:00")]),
    dict(name="P2.a", t0="2021-06-29 15:00", dt=3, xlim=("2021-06-29 06:45", "2021-07-05 17:15"),
         scale=1e-3, ylim=(-0.55, 4.15), yticks=[0, 1, 2, 3, 4],
         avg=p2a_tohre_avg,
         pts=[(p2a_tohre_pts, "2021-06-29 15:00", "2021-07-05 09:00"),
              (p2a_tohre_pts2, "2021-06-29 16:00", "2021-07-05 10:00")],
         cohre=[(p2a_cohre_mono, 0), (p2a_cohre_sesq, 1), (p2a_cohre_glv, 2)],
         frac=[p2a_frac_mono, p2a_frac_sesq, p2a_frac_glv, p2a_frac_ald, p2a_frac_alc,
               p2a_frac_oth, p2a_frac_acid, p2a_frac_iso, p2a_frac_mbo], gaps=[],
         miss=p2a_miss_avg,
         miss_pts=[(p2a_miss_pts, "2021-06-29 15:00", "2021-07-05 09:00"),
                   (p2a_miss_pts2, "2021-06-29 16:00", "2021-07-05 10:00")]),
    dict(name="P2.b", t0="2021-07-19 13:30", dt=1, xlim=("2021-07-19 11:50", "2021-07-21 04:15"),
         scale=1e-4, ylim=(-1.44, 4.97), yticks=[-1, 0, 1, 2, 3, 4],
         avg=p2b_tohre_avg,
         pts=[(p2b_tohre_pts, "2021-07-19 13:30", "2021-07-21 02:00")],
         cohre=[(p2b_cohre_mono, 0), (p2b_cohre_mbo, 8)],
         frac=[p2b_frac_mono, p2b_frac_sesq, p2b_frac_glv, p2b_frac_ald, p2b_frac_alc,
               p2b_frac_oth, p2b_frac_acid, p2b_frac_iso, p2b_frac_mbo], gaps=[],
         miss=p2b_miss_avg,
         miss_pts=[(p2b_miss_pts, "2021-07-19 22:30", "2021-07-21 02:30")]),
    dict(name="P2.c", t0="2021-08-10 11:00", dt=3, xlim=("2021-08-10 03:20", "2021-08-16 17:45"),
         scale=1e-3, ylim=(-0.446, 1.32), yticks=[0, 0.5, 1.0],
         avg=p2c_tohre_avg,
         pts=[(p2c_tohre_pts, "2021-08-10 11:00", "2021-08-16 09:00"),
              (p2c_tohre_pts2, "2021-08-10 12:00", "2021-08-16 10:00")],
         cohre=[(p2c_cohre_mono, 0)],
         frac=[p2c_frac_mono, p2c_frac_sesq, p2c_frac_glv, p2c_frac_ald, p2c_frac_alc,
               p2c_frac_oth, p2c_frac_acid, p2c_frac_iso, p2c_frac_mbo], gaps=p2c_gap_times,
         miss=p2c_miss_avg,
         miss_pts=[(p2c_miss_pts, "2021-08-11 09:00", "2021-08-16 09:00"),
                   (p2c_miss_pts2, "2021-08-11 10:00", "2021-08-16 10:00")]),
    dict(name="P3.a", t0="2021-09-13 18:00", dt=3, xlim=("2021-09-13 10:25", "2021-09-20 13:35"),
         scale=1e-4, ylim=(-4.61, 3.75), yticks=[-4, -2, 0, 2],
         avg=p3a_tohre_avg,
         pts=[(p3a_tohre_pts, "2021-09-13 18:00", "2021-09-20 06:00"),
              (p3a_tohre_pts2, "2021-09-13 19:00", "2021-09-20 07:00")],
         cohre=[(p3a_cohre_mono, 0), (p3a_cohre_sesq, 1)],
         frac=[p3a_frac_mono, p3a_frac_sesq, p3a_frac_glv, p3a_frac_ald, p3a_frac_alc,
               p3a_frac_oth, p3a_frac_acid, p3a_frac_iso, p3a_frac_mbo], gaps=[],
         miss=p3a_miss_avg,
         miss_pts=[(p3a_miss_pts, "2021-09-13 18:00", "2021-09-20 06:00"),
                   (p3a_miss_pts2, "2021-09-13 19:00", "2021-09-20 07:00")]),
    dict(name="P3.b", t0="2021-10-04 12:00", dt=3, xlim=("2021-10-04 04:00", "2021-10-11 18:00"),
         scale=1e-3, ylim=(-0.47, 4.61), yticks=[0, 1, 2, 3, 4],
         avg=p3b_tohre_avg,
         pts=[(p3b_tohre_pts, "2021-10-04 12:00", "2021-10-11 15:00"),
              (p3b_tohre_pts2, "2021-10-04 13:00", "2021-10-11 16:00")],
         cohre=[(p3b_cohre_mono, 0), (p3b_cohre_sesq, 1)],
         frac=[p3b_frac_mono, p3b_frac_sesq, p3b_frac_glv, p3b_frac_ald, p3b_frac_alc,
               p3b_frac_oth, p3b_frac_acid, p3b_frac_iso, p3b_frac_mbo], gaps=[],
         miss=p3b_miss_avg,
         miss_pts=[(p3b_miss_pts, "2021-10-04 18:00", "2021-10-11 15:00"),
                   (p3b_miss_pts2, "2021-10-04 19:00", "2021-10-11 16:00")]),
]


def tgrid(start, count, hours):
    return mdates.date2num(pd.date_range(start, periods=count, freq=pd.Timedelta(hours=hours)))


def tspan(start, end, count):
    return mdates.date2num(pd.date_range(start, end, periods=count))


def stack(ax, t, layers, step=None, scale=1.0):
    base = np.zeros(len(t))
    for vals, k in layers:
        top = base + np.asarray(vals, float)
        ax.fill_between(t, base * scale, top * scale, color=cat_colors[k], lw=0, step=step)
        base = top


plt.rcParams.update({
    "font.family": ["DejaVu Sans"], "font.weight": "bold", "axes.labelweight": "bold",
    "axes.titleweight": "bold", "axes.linewidth": 1.6,
    "xtick.major.width": 1.3, "ytick.major.width": 1.3,
    "xtick.major.size": 4, "ytick.major.size": 4, "ytick.major.pad": 2,
    "xtick.major.pad": 1.5,
    "xtick.labelsize": 9.5, "ytick.labelsize": 10, "mathtext.default": "it",
})

W, H = 1279, 670
fig = plt.figure(figsize=(W / 100, H / 100), dpi=100)
col_left = [68, 279, 490, 701, 912, 1123]
col_w = 164
row_px = [(52, 241), (241, 430), (430, 619)]
gray = "#a6a6a6"

for c, p in enumerate(panels):
    axs = [fig.add_axes([col_left[c] / W, (H - b) / H, col_w / W, (b - t) / H]) for t, b in row_px]
    ax_top, ax_mid, ax_bot = axs
    sc = p["scale"]
    t = tgrid(p["t0"], len(p["avg"]), p["dt"])
    xl = mdates.date2num(pd.to_datetime(list(p["xlim"])))

    # --- total OH reactivity
    stack(ax_top, t, p["cohre"], scale=sc)
    for vals, s0, s1 in p["pts"]:
        h_pts = ax_top.scatter(tspan(s0, s1, len(vals)), np.asarray(vals, float) * sc,
                               s=6, color=gray, lw=0, zorder=3)
    h_avg, = ax_top.plot(t, np.asarray(p["avg"], float) * sc, color="k", lw=0.8, zorder=4)
    ax_top.set_ylim(p["ylim"][0] * sc, p["ylim"][1] * sc)
    ax_top.set_yticks([v * sc for v in p["yticks"]])
    ax_top.ticklabel_format(axis="y", style="sci", scilimits=(0, 0))
    ax_top.set_title(f"Period {p['name']}", fontsize=11.5, pad=16)
    if c == 0:
        ax_top.legend([h_pts, h_avg], ["TOHRE", "TOHRE (1h-average)"], loc="upper right",
                      frameon=False, fontsize=7.5, handlelength=2.5, borderaxespad=0.3)

    # --- fractions of calculated OH reactivity
    stack(ax_mid, t, [(v, k) for k, v in enumerate(p["frac"])], step="mid")
    if p["gaps"]:
        ax_mid.vlines(mdates.date2num(pd.to_datetime(p["gaps"])), 0, 1,
                      color="white", lw=1.0, alpha=0.75)
    if c == 2:
        handles = [Patch(facecolor=col, edgecolor="none") for col in cat_colors]
        ax_mid.legend(handles, categories, loc="lower left", fontsize=8.3,
                      handlelength=2.0, labelspacing=0.37)

    # --- missing OH reactivity
    for vals, s0, s1 in p["miss_pts"]:
        ax_bot.scatter(tspan(s0, s1, len(vals)), vals, s=6, color=gray, lw=0, zorder=3)
    ax_bot.plot(t, p["miss"], color="k", lw=1.2, zorder=4)

    for ax in axs:
        ax.set_xlim(xl)
    for ax in (ax_mid, ax_bot):
        ax.set_ylim(0, 1)
        ax.set_yticks([0, 0.2, 0.4, 0.6, 0.8])
        ax.tick_params(axis="y", left=True, right=True, labelleft=(c == 0))
    for ax in (ax_top, ax_mid):
        ax.tick_params(axis="x", bottom=False, labelbottom=False)
    ax_bot.xaxis.set_major_locator(mdates.DayLocator())
    ax_bot.xaxis.set_major_formatter(mdates.DateFormatter("%d.%m"))
    for lab in ax_bot.get_xticklabels():
        lab.set_rotation(60)
        lab.set_ha("center")
    if c == 0:
        ax_top.set_ylabel("TOHRE\n[m$^{\\mathbf{3}}$ s$^{\\mathbf{-2}}$ g$_{dw}^{\\mathbf{-1}}$]",
                          fontsize=11)
        ax_top.yaxis.set_label_coords(-0.128, 0.5)
        ax_mid.set_ylabel("Fraction of COHRE", fontsize=11)
        ax_mid.yaxis.set_label_coords(-0.21, 0.5)
        ax_bot.set_ylabel("Missing OHRE", fontsize=11)
        ax_bot.yaxis.set_label_coords(-0.21, 0.5)

fig.savefig("out.png", dpi=100)
